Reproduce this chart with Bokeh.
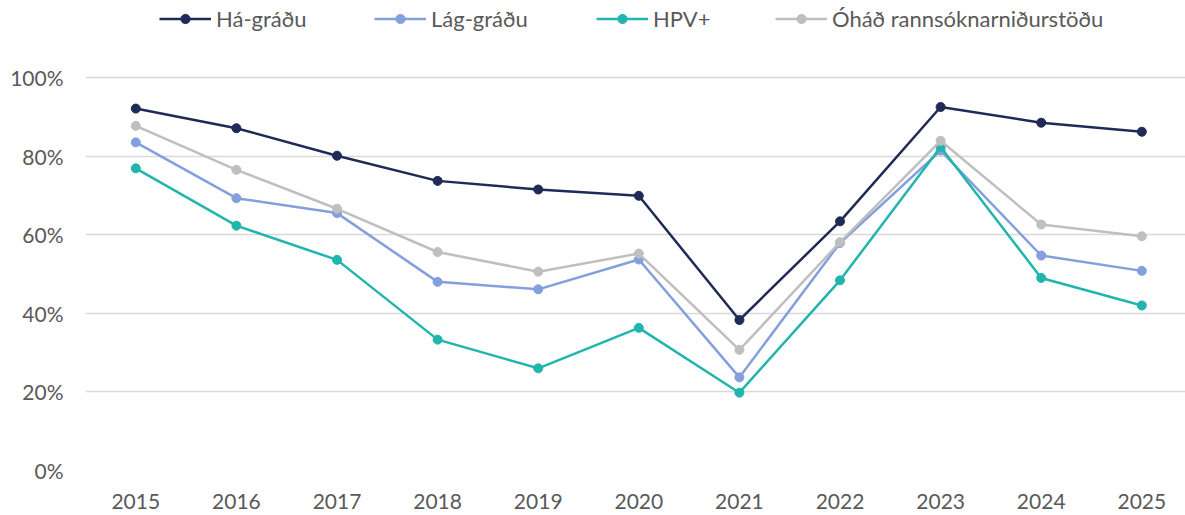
from bokeh.plotting import figure
from bokeh.models import Range1d, FixedTicker, PrintfTickFormatter, Legend, LegendItem
from bokeh.embed import file_html
from bokeh.resources import INLINE

years = [2015, 2016, 2017, 2018, 2019, 2020, 2021, 2022, 2023, 2024, 2025]
ha_gradu = [92.1, 87.1, 80.1, 73.7, 71.5, 69.9, 38.3, 63.4, 92.5, 88.5, 86.2]
lag_gradu = [83.5, 69.3, 65.5, 48.0, 46.1, 53.7, 23.7, 57.9, 81.4, 54.7, 50.8]
hpv = [76.9, 62.3, 53.6, 33.3, 26.0, 36.3, 19.8, 48.4, 82.3, 49.0, 42.0]
ohad = [87.7, 76.5, 66.6, 55.6, 50.6, 55.2, 30.7, 58.1, 83.9, 62.6, 59.6]

series_names = ["Há-gráðu", "Lág-gráðu", "HPV+", "Óháð rannsóknarniðurstöðu"]
series_values = [ha_gradu, lag_gradu, hpv, ohad]
series_colors = ["#1F2A56", "#829FDE", "#22B5AD", "#BFBFBF"]
y_ticks = [0, 20, 40, 60, 80, 100]

FONT = "Lato"
TXT = "#595959"

# frame spans the full height above the x-axis; headroom above 100% holds the legend
p = figure(width=1185, height=515, output_backend="svg", toolbar_location=None,
           x_range=Range1d(2014.5, 2025.434), y_range=Range1d(0, 119.6),
           min_border_left=85, min_border_right=0, min_border_top=0, min_border_bottom=45)
p.outline_line_color = None
p.background_fill_color = "white"
p.border_fill_color = "white"

p.xgrid.grid_line_color = None
p.ygrid.grid_line_color = "#D9D9D9"
p.ygrid.grid_line_width = 1.5
p.ygrid.ticker = FixedTicker(ticks=y_ticks)

p.yaxis.ticker = FixedTicker(ticks=y_ticks)
p.yaxis.formatter = PrintfTickFormatter(format="%d%%")
p.xaxis.ticker = FixedTicker(ticks=years)
for ax in (p.xaxis, p.yaxis):
    ax.axis_line_color = None
    ax.major_tick_line_color = None
    ax.minor_tick_line_color = None
    ax.major_tick_out = 0
    ax.major_tick_in = 0
    ax.major_label_text_font = FONT
    ax.major_label_text_font_size = "21px"
    ax.major_label_text_color = TXT
p.yaxis.major_label_standoff = 22
p.xaxis.major_label_standoff = 23

legend_x = [74, 289, 511, 690]
for name, vals, col, lx in zip(series_names, series_values, series_colors, legend_x):
    ln = p.line(years, vals, line_color=col, line_width=2.5)
    sc = p.scatter(years, vals, size=9, fill_color=col, line_color=col)
    lg = Legend(items=[LegendItem(label=name, renderers=[ln, sc])],
                location=(lx, 438), orientation="horizontal",
                glyph_width=52, glyph_height=23, label_standoff=5,
                padding=0, margin=0, spacing=0,
                border_line_color=None, background_fill_alpha=0,
                label_text_font=FONT, label_text_font_size="22px",
                label_text_color=TXT)
    p.add_layout(lg, "center")

open("out.html", "w").write(file_html(p, INLINE))
